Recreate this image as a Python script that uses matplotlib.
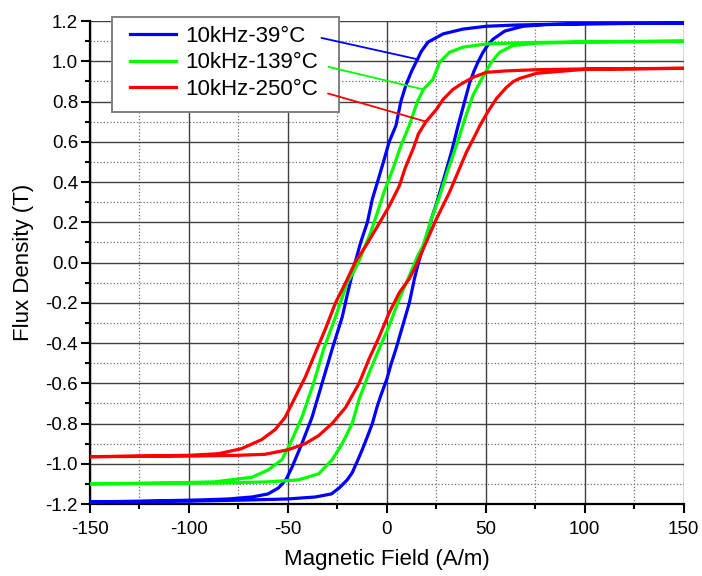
import numpy as np
import matplotlib
matplotlib.use('Agg')
import matplotlib.pyplot as plt
from matplotlib.patches import Rectangle
from matplotlib.ticker import MultipleLocator, FormatStrFormatter

plt.rcParams['font.family'] = ['Liberation Sans', 'DejaVu Sans']
plt.rcParams['axes.unicode_minus'] = False

# ---- data (H in A/m, B in T) ----
labels = ['10kHz-39°C', '10kHz-139°C', '10kHz-250°C']
colors = ['#0000FF', '#00FF00', '#FF0000']

# 39 C, rising branch
h39_up = [-150, -100, -70, -50, -36, -28, -24, -20, -17.5, -15, -12.4, -10, -7.3, -5, -3, 0, 2,
          4.6, 8, 11.4, 13.9, 16, 19.1, 22.5, 25.8, 29.2, 32.6, 36, 39.3, 41.9, 44, 46, 48.6,
          51, 53.7, 59.6, 68.8, 80, 100, 150]
b39_up = [-1.19, -1.186, -1.18, -1.175, -1.165, -1.15, -1.12, -1.08, -1.045, -0.99, -0.93, -0.87,
          -0.80, -0.72, -0.66, -0.58, -0.51, -0.43, -0.315, -0.2, -0.083, 0.0, 0.1, 0.215, 0.315,
          0.43, 0.547, 0.68, 0.8, 0.895, 0.95, 0.995, 1.045, 1.08, 1.11, 1.15, 1.174, 1.182, 1.186, 1.19]
# 39 C, falling branch
h39_dn = [150, 100, 80, 65, 50.3, 38.5, 28.4, 20.8, 17.5, 15.5, 12.5, 9.6, 7.1, 4.6, 1.2, -1.4,
          -4.7, -7.3, -9.8, -13.2, -16, -19.5, -22.5, -27.6, -32.7, -37.8, -42.9, -48, -51, -54.7,
          -60, -68, -80, -95, -120, -150]
b39_dn = [1.19, 1.187, 1.183, 1.18, 1.174, 1.16, 1.136, 1.095, 1.05, 1.01, 0.95, 0.88, 0.80, 0.68,
          0.6, 0.51, 0.40, 0.315, 0.2, 0.1, 0.0, -0.14, -0.27, -0.43, -0.6, -0.77, -0.9, -1.02,
          -1.08, -1.12, -1.15, -1.165, -1.175, -1.18, -1.185, -1.19]

# 139 C
h139_up = [-150, -100, -80, -60, -44.6, -34.4, -27.6, -22.5, -17.5, -14, -9, -3.9, 1.2, 6.3, 11.4,
           15.6, 18.3, 22.5, 26.7, 30.9, 35.1, 39.3, 43.5, 47.8, 52.8, 57, 63.8, 75.6, 100, 150]
b139_up = [-1.10, -1.097, -1.095, -1.09, -1.08, -1.05, -0.98, -0.9, -0.8, -0.68, -0.55, -0.43,
           -0.315, -0.18, -0.066, 0.033, 0.083, 0.215, 0.33, 0.46, 0.58, 0.71, 0.83, 0.91, 0.995,
           1.045, 1.078, 1.09, 1.095, 1.10]
h139_dn = [150, 100, 69, 50.3, 38.5, 31.7, 26.7, 23.3, 18.5, 15.5, 11.3, 7.1, 2.9, -1.4, -4.7,
           -8.1, -12.3, -14.4, -17, -20, -25.9, -31.9, -37, -42.9, -48.8, -53, -59.8, -68, -87,
           -110, -150]
b139_dn = [1.10, 1.097, 1.092, 1.086, 1.07, 1.045, 0.995, 0.91, 0.86, 0.8, 0.68, 0.58, 0.46, 0.35,
           0.25, 0.15, 0.05, 0.0, -0.05, -0.1, -0.27, -0.43, -0.6, -0.77, -0.9, -0.98, -1.03,
           -1.067, -1.09, -1.095, -1.10]

# 250 C
h250_up = [-150, -100, -75, -61.5, -49.7, -41.2, -34.4, -27.6, -20.8, -14, -9, -3.9, 1.2, 6.3,
           11.4, 14.5, 19.1, 25, 31.7, 36, 40.3, 44, 47, 51.1, 55.4, 60.4, 64, 67.2, 75.6, 100, 150]
b250_up = [-0.965, -0.962, -0.958, -0.953, -0.93, -0.9, -0.86, -0.8, -0.72, -0.6, -0.48, -0.37,
           -0.25, -0.15, -0.08, -0.02, 0.083, 0.215, 0.35, 0.45, 0.55, 0.62, 0.68, 0.75, 0.815,
           0.87, 0.9, 0.915, 0.94, 0.96, 0.965]
h250_dn = [150, 100, 75, 60, 50.3, 43.5, 37.6, 33.4, 28.4, 25, 19.8, 16, 13.5, 9.3, 6.3, 1.2,
           -4.7, -10.6, -16, -20.8, -25.9, -31, -35.3, -41.2, -46.3, -51.4, -56.4, -63.2, -73.4,
           -85, -100, -150]
b250_dn = [0.965, 0.962, 0.958, 0.952, 0.945, 0.92, 0.887, 0.86, 0.81, 0.76, 0.70, 0.64, 0.57,
           0.47, 0.38, 0.28, 0.18, 0.083, 0.0, -0.1, -0.2, -0.33, -0.43, -0.57, -0.67, -0.77,
           -0.83, -0.88, -0.925, -0.95, -0.958, -0.965]

loops = [(h39_up, b39_up, h39_dn, b39_dn),
         (h139_up, b139_up, h139_dn, b139_dn),
         (h250_up, b250_up, h250_dn, b250_dn)]
# index in falling branch where the leader line from the legend ends
leader_idx = [9, 8, 10]
# where the leader starts (axes fraction, right of the legend text)
leader_start = [(0.390, 0.965), (0.402, 0.905), (0.401, 0.850)]

fig = plt.figure(figsize=(7.02, 5.76), dpi=100)
ax = fig.add_axes([0.128, 0.125, 0.846, 0.8385])

for (hu, bu, hd, bd), c, lab in zip(loops, colors, labels):
    h = np.concatenate([hu, hd])
    b = np.concatenate([bu, bd])
    ax.plot(h, b, color=c, lw=2.3, label=lab, zorder=3)

for (hu, bu, hd, bd), c, i, st in zip(loops, colors, leader_idx, leader_start):
    ax.annotate('', xy=(hd[i], bd[i]), xycoords='data', xytext=st, textcoords='axes fraction',
                arrowprops=dict(arrowstyle='-', color=c, lw=1.3, shrinkA=0, shrinkB=0),
                zorder=8, annotation_clip=False)

ax.set_xlim(-150, 150)
ax.set_ylim(-1.2, 1.2)
ax.xaxis.set_major_locator(MultipleLocator(50))
ax.xaxis.set_minor_locator(MultipleLocator(25))
ax.yaxis.set_major_locator(MultipleLocator(0.2))
ax.yaxis.set_minor_locator(MultipleLocator(0.1))
ax.yaxis.set_major_formatter(FormatStrFormatter('%.1f'))

ax.set_axisbelow(True)
ax.grid(which='major', color='#404040', lw=1.0, ls='-')
ax.grid(which='minor', color='#707070', lw=0.9, ls=':')

for s in ['top', 'right']:
    ax.spines[s].set_visible(False)
for s in ['left', 'bottom']:
    ax.spines[s].set_linewidth(1.6)

ax.tick_params(which='major', direction='out', length=6.5, width=1.5, labelsize=13.5)
ax.tick_params(which='minor', direction='out', length=3.6, width=1.5)
ax.tick_params(axis='x', which='major', pad=6)
ax.tick_params(axis='y', which='major', pad=2)

ax.set_xlabel('Magnetic Field (A/m)', fontsize=16, labelpad=8)
ax.set_ylabel('Flux Density (T)', fontsize=16, labelpad=8)

# legend frame drawn separately so the padding matches the original
frame = Rectangle((0.037, 0.8116), 0.382, 0.1964, transform=ax.transAxes, facecolor='white',
                  edgecolor='#808080', lw=1.4, clip_on=False, zorder=5)
ax.add_patch(frame)
leg = ax.legend(loc='upper left', bbox_to_anchor=(0.0673, 0.99), borderaxespad=0,
                fontsize=16, handlelength=2.1, handletextpad=0.4, labelspacing=0.25,
                borderpad=0, frameon=False)
leg.set_zorder(6)
for line in leg.get_lines():
    line.set_linewidth(2.3)

fig.savefig('out.png', dpi=100)
